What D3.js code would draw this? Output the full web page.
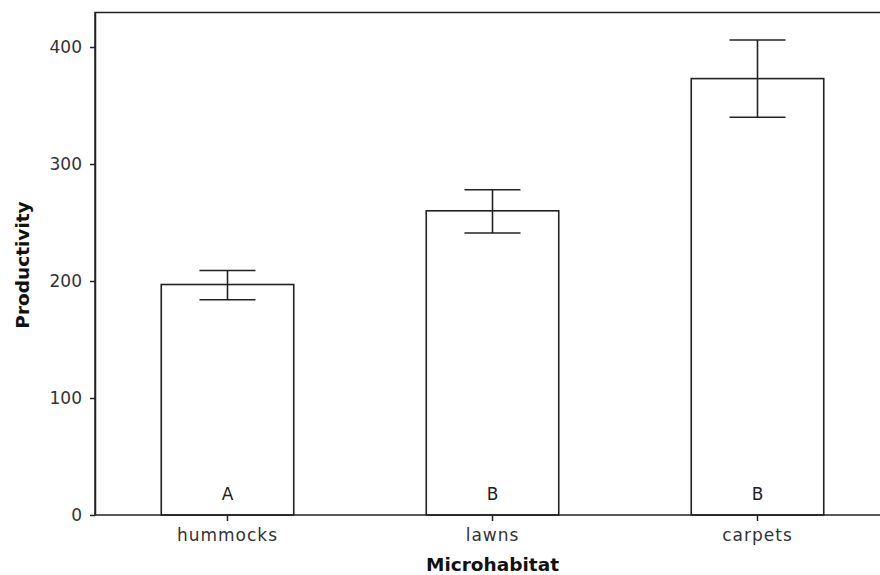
<!DOCTYPE html>
<html>
<head>
<meta charset="UTF-8">
<title>Productivity by microhabitat</title>
<script src="https://cdn.jsdelivr.net/npm/d3@7"></script>
<style>
  body { margin: 0; background: #fff; }
  text { font-family: "DejaVu Sans", Verdana, sans-serif; }
</style>
</head>
<body>
<svg id="svg" width="880" height="575"></svg>
<script>
  // data
  const habitats = ["hummocks", "lawns", "carpets"];
  const means = [197, 260, 373];
  const lower = [184, 241, 340];
  const upper = [209, 278, 406];
  const groups = ["A", "B", "B"];
  const yTicks = [0, 100, 200, 300, 400];

  const svg = d3.select("#svg");
  const plotLeft = 95, plotRight = 890, plotTop = 12.5, plotBottom = 515;

  const x = d3.scaleBand().domain(habitats).range([plotLeft, plotRight])
    .paddingInner(0.5).paddingOuter(0.25);
  const y = d3.scaleLinear().domain([0, 429.5]).range([plotBottom, plotTop]);

  // frame (left + top, right side is cut off)
  svg.append("path")
    .attr("d", `M${plotLeft},${plotBottom}V${plotTop}H${plotRight}`)
    .attr("fill", "none").attr("stroke", "#222").attr("stroke-width", 1.5);

  // bars
  svg.append("g").selectAll("rect")
    .data(habitats).enter().append("rect")
    .attr("x", d => x(d))
    .attr("y", (d, i) => y(means[i]))
    .attr("width", x.bandwidth())
    .attr("height", (d, i) => y(0) - y(means[i]))
    .attr("fill", "#fff").attr("stroke", "#222").attr("stroke-width", 1.6);

  // error bars
  const cap = 28;
  const eb = svg.append("g").attr("stroke", "#222").attr("stroke-width", 1.6);
  habitats.forEach((h, i) => {
    const cx = x(h) + x.bandwidth() / 2;
    eb.append("line").attr("x1", cx).attr("x2", cx).attr("y1", y(lower[i])).attr("y2", y(upper[i]));
    eb.append("line").attr("x1", cx - cap).attr("x2", cx + cap).attr("y1", y(upper[i])).attr("y2", y(upper[i]));
    eb.append("line").attr("x1", cx - cap).attr("x2", cx + cap).attr("y1", y(lower[i])).attr("y2", y(lower[i]));
  });

  // group letters
  svg.append("g").selectAll("text")
    .data(habitats).enter().append("text")
    .attr("x", d => x(d) + x.bandwidth() / 2)
    .attr("y", plotBottom - 15)
    .attr("text-anchor", "middle").attr("font-size", 17).attr("fill", "#222")
    .text((d, i) => groups[i]);

  // axes
  const yAxis = svg.append("g").attr("transform", `translate(${plotLeft},0)`)
    .call(d3.axisLeft(y).tickValues(yTicks).tickSize(5).tickSizeOuter(0).tickPadding(8));
  const xAxis = svg.append("g").attr("transform", `translate(0,${plotBottom})`)
    .call(d3.axisBottom(x).tickSize(6).tickSizeOuter(0).tickPadding(8));
  [yAxis, xAxis].forEach(a => {
    a.select(".domain").attr("stroke", "#222").attr("stroke-width", 1.5);
    a.selectAll(".tick line").attr("stroke", "#222").attr("stroke-width", 1.5);
    a.selectAll(".tick text").attr("font-size", 17).attr("fill", "#333")
      .style("font-family", "'DejaVu Sans', Verdana, sans-serif");
  });
  xAxis.selectAll(".tick text").style("letter-spacing", "1px");
  xAxis.select(".domain").attr("d", `M${plotLeft},0H${plotRight}`);

  // axis titles
  svg.append("text")
    .attr("x", x("lawns") + x.bandwidth() / 2).attr("y", 571)
    .attr("text-anchor", "middle").attr("font-size", 18.5).attr("font-weight", "bold")
    .attr("fill", "#111").text("Microhabitat");
  svg.append("text")
    .attr("transform", "translate(29,265) rotate(-90)")
    .attr("text-anchor", "middle").attr("font-size", 18.5).attr("font-weight", "bold")
    .attr("fill", "#111").text("Productivity");
</script>
</body>
</html>
